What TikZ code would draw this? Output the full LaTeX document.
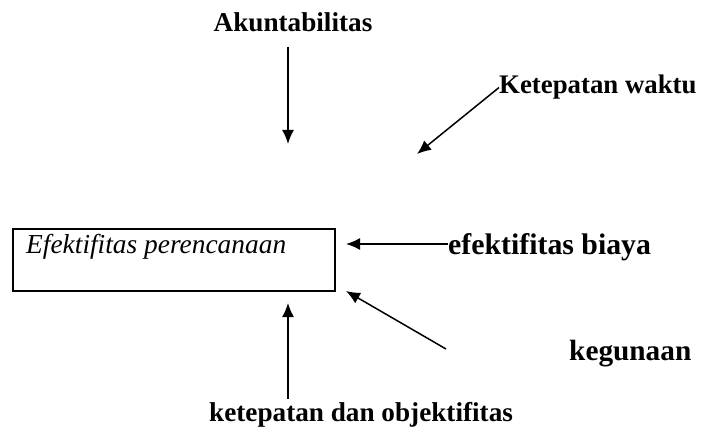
\documentclass[tikz,border=0pt]{standalone}
\usepackage{fontspec}
\setmainfont{Liberation Serif}
\usetikzlibrary{arrows.meta}

\begin{document}
\begin{tikzpicture}[x=1pt,y=1pt,
  lbl/.style={font=\fontsize{27.2}{32}\selectfont\bfseries, inner sep=0pt, anchor=base west},
  biglbl/.style={lbl, font=\fontsize{29.8}{35}\selectfont\bfseries},
  arr/.style={line width=1.5pt, -{Latex[length=14pt,width=12pt]}}]

\useasboundingbox (0,0) rectangle (703,-430);

% labels
\node[lbl, anchor=base] (akun) at (293,-32) {Akuntabilitas};
\node[lbl, font=\fontsize{26.8}{32}\selectfont\bfseries] (waktu) at (499,-94) {Ketepatan waktu};
\node[biglbl] (biaya) at (448,-254) {efektifitas biaya};
\node[biglbl, font=\fontsize{29.3}{35}\selectfont\bfseries] (guna) at (569,-360) {kegunaan};
\node[lbl] (objek) at (209,-421) {ketepatan dan objektifitas};

% box
\node[draw, line width=1.8pt, anchor=north west, minimum width=322pt, minimum height=62pt] (plan) at (12,-228) {};
\node[lbl, font=\fontsize{27.4}{32}\selectfont\itshape] (plantext) at (26,-253) {Efektifitas perencanaan};

% arrow ends
\coordinate (topin) at (288,-144);
\coordinate (waktuin) at (417,-154);
\coordinate (biayain) at (346,-244);
\coordinate (gunaout) at (446,-349);
\coordinate (gunain) at (346,-291);
\coordinate (upin) at (288,-303);

\draw[arr] ([yshift=-14]akun.south -| topin) -- (topin);
\draw[arr] (waktu.west) -- (waktuin);
\draw[arr] (biaya.west |- biayain) -- (biayain);
\draw[arr] (gunaout) -- (gunain);
\draw[arr] ([yshift=3]objek.north -| upin) -- (upin);

\end{tikzpicture}
\end{document}
